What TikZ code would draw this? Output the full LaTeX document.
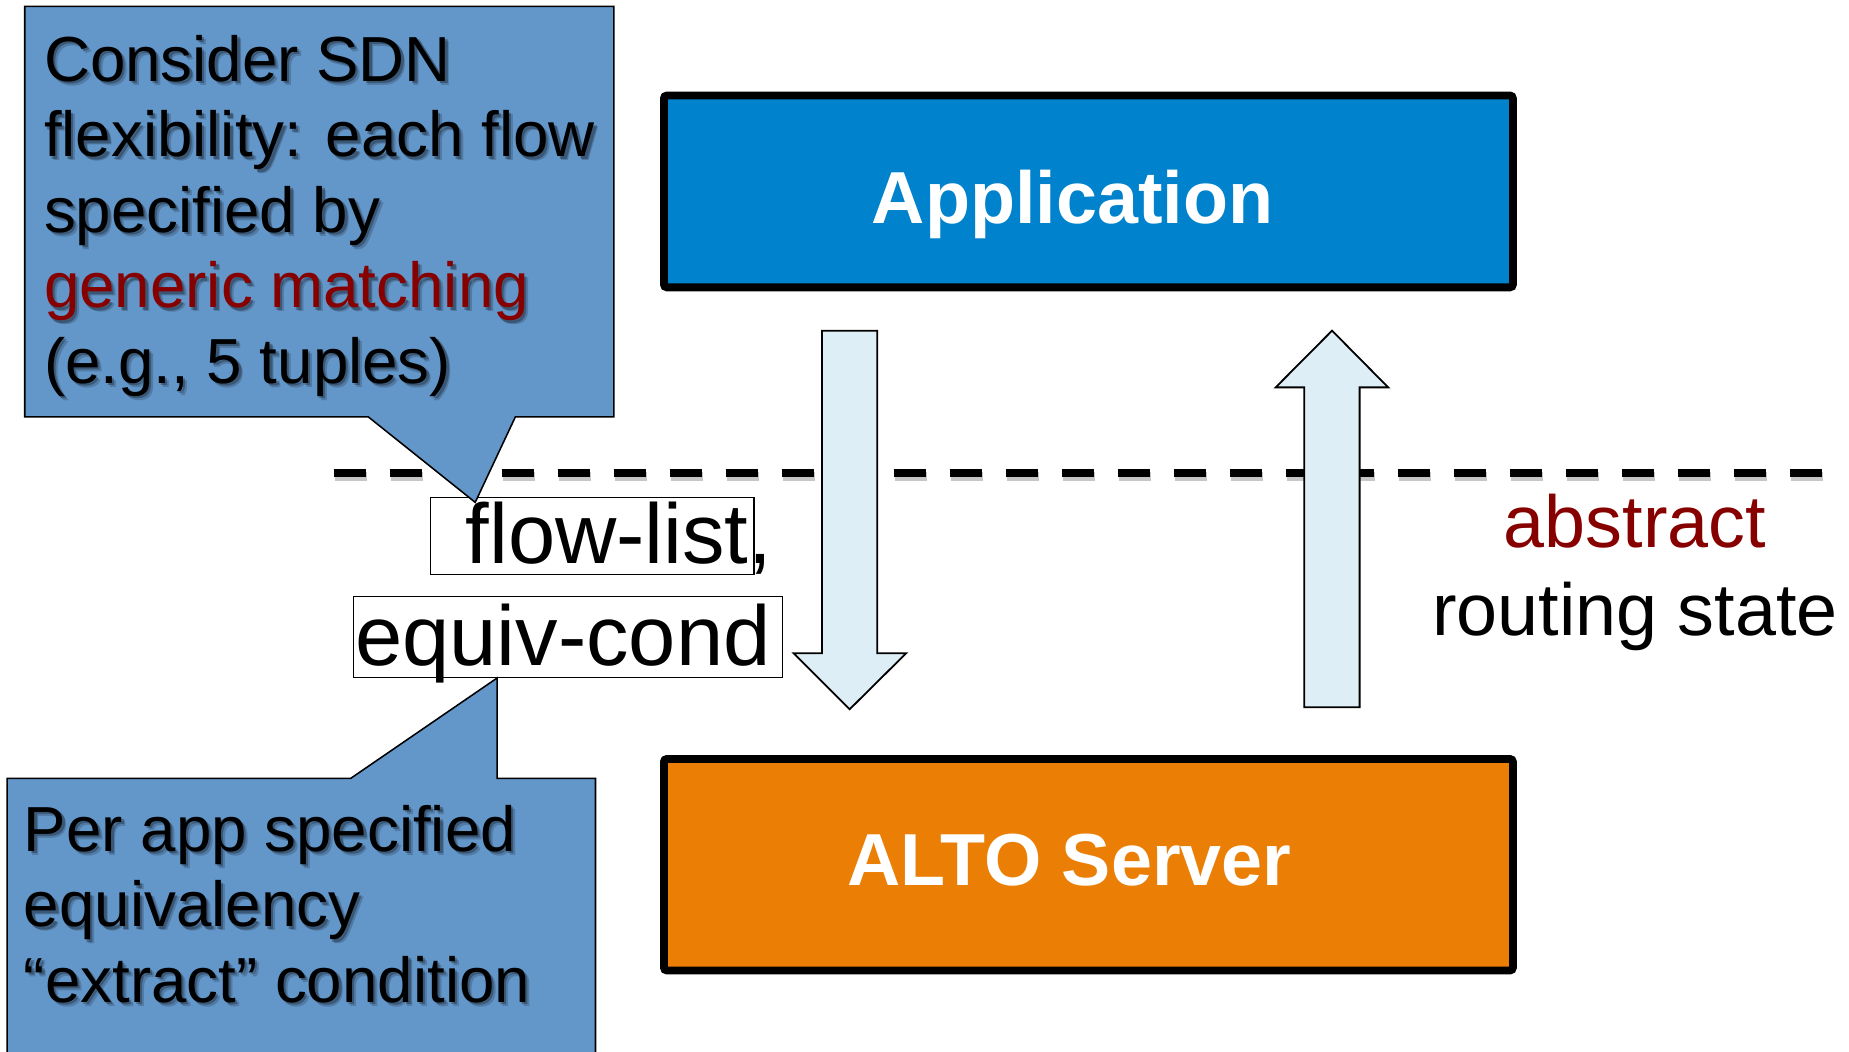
\documentclass[tikz,border=0pt]{standalone}
\usepackage{fontspec}
\setmainfont{Liberation Sans}
\usetikzlibrary{calc}

\definecolor{calloutblue}{RGB}{99,150,201}
\definecolor{appblue}{RGB}{0,130,204}
\definecolor{altoorange}{RGB}{235,126,5}
\definecolor{arrowfill}{RGB}{222,238,246}
\definecolor{accentred}{RGB}{135,0,0}

% one line of callout text, set on a soft drop shadow
\newcommand\shadowedline[4]{%
  \node[calloutline, text=black, text opacity=0.18] at ($#2+(3.4,3.4)$) {#4};
  \node[calloutline, text=black, text opacity=0.28] at ($#2+(1.9,1.9)$) {#4};
  \node[calloutline, text=#3] (#1) at #2 {#4};
}

\begin{document}
\begin{tikzpicture}[x=0.5896bp, y=-0.5896bp,
  calloutshape/.style={fill=calloutblue, draw=black, line width=0.77bp, line join=miter},
  calloutline/.style={anchor=base west, inner sep=0pt, font=\fontsize{31.84bp}{38bp}\selectfont},
  layerbox/.style={draw=black, line width=3.9bp, rounded corners=1.5bp},
  layerlabel/.style={anchor=base, inner sep=0pt, text=white, font=\fontsize{36.85bp}{44bp}\selectfont\bfseries},
  blockarrow/.style={fill=arrowfill, draw=black, line width=0.9bp, line join=miter},
  paramframe/.style={draw=black, fill=white, line width=0.7bp},
  paramtext/.style={anchor=base west, inner sep=0pt, font=\fontsize{42.45bp}{51bp}\selectfont},
  notetext/.style={anchor=base, inner sep=0pt, font=\fontsize{36.85bp}{44bp}\selectfont},
  divider/.style={line width=4.1bp, dash pattern=on 15.9bp off 12.1bp}
]
\useasboundingbox (0,0) rectangle (1568,892);
\clip (0,0) rectangle (1568,892);

% dashed divider between the layers, with a faint shadow
\coordinate (divL) at (283,401);
\coordinate (divR) at (1545,401);
\draw[divider, black!22] ($(divL)+(1,3)$) -- ($(divR)+(1,3)$);
\draw[divider] (divL) -- (divR);

% the two layers
\draw[layerbox, fill=appblue] (563,81) rectangle (1283,243.7);
\node[layerlabel] (app) at (909.5,189.4) {Application};
\draw[layerbox, fill=altoorange] (563,643.6) rectangle (1283,823);
\node[layerlabel] (alto) at (907,750.5) {ALTO Server};

% request (down) and response (up) block arrows
\draw[blockarrow] (697,280.4) -- (744,280.4) -- (744,554) -- (768.4,554)
  -- (720.5,601.5) -- (673,554) -- (697,554) -- cycle;
\draw[blockarrow] (1106,599.8) -- (1153,599.8) -- (1153,328.5) -- (1177.2,328.5)
  -- (1129.6,280.4) -- (1081.8,328.5) -- (1106,328.5) -- cycle;

% query parameters
\draw[paramframe] (365,421.8) rectangle (639.5,487);
\node[paramtext] (flowlist) at (394.5,477.7) {flow-list,};
\draw[paramframe] (300,506) rectangle (663.8,574.4);
\node[paramtext] (equiv) at (301,564) {equiv-cond};

% callout on flow matching
\draw[calloutshape] (21,5.4) -- (520.5,5.4) -- (520.5,353.6) -- (437,353.6)
  -- (403,426) -- (312.4,353.6) -- (21,353.6) -- cycle;
\shadowedline{sdnA}{(37,69)}{black}{Consider SDN}
\shadowedline{sdnB}{(37,133)}{black}{flexibility: each flow}
\shadowedline{sdnC}{(37,197)}{black}{specified by}
\shadowedline{sdnD}{(37,261)}{accentred}{generic matching}
\shadowedline{sdnE}{(37,325)}{black}{(e.g., 5 tuples)}

% callout on the equivalence condition
\draw[calloutshape] (6,660) -- (297.5,660) -- (421.5,575) -- (421.5,660)
  -- (505,660) -- (505,900) -- (6,900) -- cycle;
\shadowedline{eqA}{(20,722)}{black}{Per app specified}
\shadowedline{eqB}{(20,786)}{black}{equivalency}
\shadowedline{eqC}{(20,850)}{black}{“extract” condition}

% note on the returned state
\node[notetext, text=accentred] (abs) at (1386.5,464) {abstract};
\node[notetext] (rstate) at (1386.5,538.5) {routing state};
\end{tikzpicture}
\end{document}
